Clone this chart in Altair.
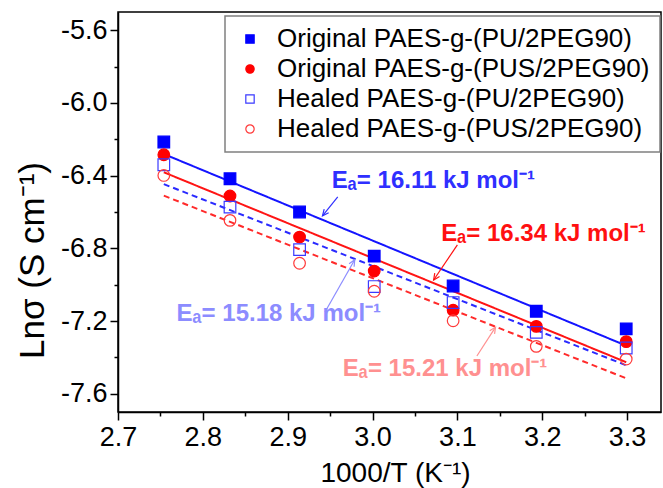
import math
import altair as alt
import pandas as pd

# ---------------- data ----------------
inv_T = [2.754, 2.832, 2.914, 3.002, 3.095, 3.193, 3.299]
series_names = [
    "Original PAES-g-(PU/2PEG90)",
    "Original PAES-g-(PUS/2PEG90)",
    "Healed PAES-g-(PU/2PEG90)",
    "Healed PAES-g-(PUS/2PEG90)",
]
orig_pu = [-6.215, -6.417, -6.600, -6.843, -7.007, -7.146, -7.243]
orig_pus = [-6.285, -6.512, -6.738, -6.925, -7.140, -7.229, -7.313]
healed_pu = [-6.340, -6.573, -6.807, -7.010, -7.098, -7.262, -7.348]
healed_pus = [-6.399, -6.646, -6.882, -7.036, -7.198, -7.339, -7.409]
all_series = [orig_pu, orig_pus, healed_pu, healed_pus]

x_ticks = [2.7, 2.75, 2.8, 2.85, 2.9, 2.95, 3.0, 3.05, 3.1, 3.15, 3.2, 3.25, 3.3]
y_ticks = [-7.6, -7.4, -7.2, -7.0, -6.8, -6.6, -6.4, -6.2, -6.0, -5.8, -5.6]

ann_text = ["Eₐ= 16.11 kJ mol⁻¹", "Eₐ= 16.34 kJ mol⁻¹", "Eₐ= 15.18 kJ mol⁻¹", "Eₐ= 15.21 kJ mol⁻¹"]
ann_x = [2.952, 3.081, 2.769, 2.965]
ann_y = [-6.467, -6.759, -7.199, -7.502]
arrow_start_x = [2.959, 3.100, 2.944, 3.123]
arrow_start_y = [-6.517, -6.781, -7.150, -7.392]
arrow_tip_x = [2.941, 3.072, 2.979, 3.145]
arrow_tip_y = [-6.621, -6.974, -6.863, -7.233]

# ---------------- styles ----------------
W, H = 543, 400
X_DOM = [2.7, 3.34]
Y_DOM = [-7.7, -5.5]
FONT = "Liberation Sans"
shapes = ["square", "circle", "square", "circle"]
fills = ["#0000ff", "#ff0000", "transparent", "transparent"]
strokes = ["#0000ff", "#ff0000", "#3a3aff", "#ff3a3a"]
line_colors = ["#1414ff", "#ff1414", "#2a2aff", "#ff2a2a"]
dashes = [[1, 0], [1, 0], [6, 4], [6, 4]]
ann_colors = ["#2f2fff", "#ff1010", "#8c8cff", "#ff9090"]

rows = []
for name, vals in zip(series_names, all_series):
    for xv, yv in zip(inv_T, vals):
        rows.append({"series": name, "x": xv, "y": yv})
df = pd.DataFrame(rows)
fit_names = ["fit: " + s for s in series_names]

px_x = W / (X_DOM[1] - X_DOM[0])
px_y = H / (Y_DOM[1] - Y_DOM[0])
angles = []
for sx, sy, tx, ty in zip(arrow_start_x, arrow_start_y, arrow_tip_x, arrow_tip_y):
    dx = (tx - sx) * px_x
    dy = -(ty - sy) * px_y
    angles.append(math.degrees(math.atan2(dx, -dy)) % 360)

ann = pd.DataFrame({
    "label": ann_text, "ax": ann_x, "ay": ann_y,
    "sx": arrow_start_x, "sy": arrow_start_y,
    "tx": arrow_tip_x, "ty": arrow_tip_y,
    "ang": angles, "col": ann_colors,
})

x_scale = alt.Scale(domain=X_DOM, nice=False, zero=False)
y_scale = alt.Scale(domain=Y_DOM, nice=False, zero=False)

x_major = "round(datum.value*100) % 10 == 0"
y_major = "abs(round(datum.value*10)) % 4 == 0"

x_axis = alt.Axis(
    values=x_ticks,
    labelExpr=f"{x_major} ? format(datum.value, '.1f') : ''",
    tickSize={"condition": {"test": x_major, "value": 8}, "value": 4},
    title="1000/T (K⁻¹)",
    titleFontSize=28, titleX=277, titleY=69,
    titleBaseline="alphabetic", titleAlign="center",
    labelFontSize=27, labelPadding=4, labelFlush=False, labelOverlap=False,
)
y_axis = alt.Axis(
    values=y_ticks,
    labelExpr=f"{y_major} ? ((datum.value < 0 ? '-' : '') + format(abs(datum.value), '.1f')) : ''",
    tickSize={"condition": {"test": y_major, "value": 8}, "value": 4},
    title="Lnσ (S cm⁻¹)",
    titleFontSize=35, titleX=-75, titleY=248, titleAngle=270,
    titleBaseline="alphabetic", titleAlign="center",
    labelFontSize=27, labelPadding=3, labelFlush=False, labelOverlap=False,
)

X = lambda f: alt.X(f, type="quantitative", scale=x_scale, axis=x_axis)
Y = lambda f: alt.Y(f, type="quantitative", scale=y_scale, axis=y_axis)

legend = alt.Legend(
    title=None, orient="none", legendX=107, legendY=4,
    labelFont=FONT, labelFontSize=26, labelColor="black", labelLimit=0,
    symbolSize=70, symbolStrokeWidth=1.2, symbolOffset=2, labelOffset=14,
    padding=10, rowPadding=4, strokeColor="#808080", fillColor="white",
)

base = alt.Chart(df)

lines = base.transform_regression("x", "y", groupby=["series"]).transform_calculate(
    fit="'fit: ' + datum.series"
).mark_line(strokeWidth=2).encode(
    x=X("x"), y=Y("y"),
    color=alt.Color("fit:N", scale=alt.Scale(domain=fit_names, range=line_colors), legend=None),
    strokeDash=alt.StrokeDash("fit:N", scale=alt.Scale(domain=fit_names, range=dashes), legend=None),
)

points = base.mark_point(filled=True, size=135, strokeWidth=1.2, opacity=1).encode(
    x=X("x"), y=Y("y"),
    shape=alt.Shape("series:N", scale=alt.Scale(domain=series_names, range=shapes), legend=legend),
    fill=alt.Fill("series:N", scale=alt.Scale(domain=series_names, range=fills), legend=legend),
    stroke=alt.Stroke("series:N", scale=alt.Scale(domain=series_names, range=strokes), legend=legend),
)

abase = alt.Chart(ann)
arrows = abase.mark_rule(strokeWidth=1.2).encode(
    x=X("sx"), y=Y("sy"), x2="tx", y2="ty",
    color=alt.Color("col:N", scale=None),
)
heads = abase.mark_point(
    shape="M -0.55 1.2 L 0 0 L 0.55 1.2", filled=False, size=110, strokeWidth=1.2, opacity=1
).encode(
    x=X("tx"), y=Y("ty"),
    angle=alt.Angle("ang:Q", scale=None),
    color=alt.Color("col:N", scale=None),
)
texts = abase.mark_text(
    align="left", baseline="alphabetic", fontWeight="bold", font=FONT, fontSize=24
).encode(
    x=X("ax"), y=Y("ay"), text="label:N",
    color=alt.Color("col:N", scale=None),
)

chart = alt.layer(lines, points, arrows, heads, texts).properties(
    width=W, height=H,
    padding={"left": 118, "top": 12, "right": 2, "bottom": 76},
    autosize=alt.AutoSizeParams(type="none"),
).configure_view(
    stroke="black", strokeWidth=1.5
).configure_axis(
    grid=False, domainColor="black", domainWidth=1.5,
    tickColor="black", tickWidth=1.5,
    labelColor="black", titleColor="black",
    labelFont=FONT, titleFont=FONT, titleFontWeight="normal",
).configure_legend(
    strokeWidth=1.5
)

chart.save("out.html", embed_options={"renderer": "svg", "actions": False})
